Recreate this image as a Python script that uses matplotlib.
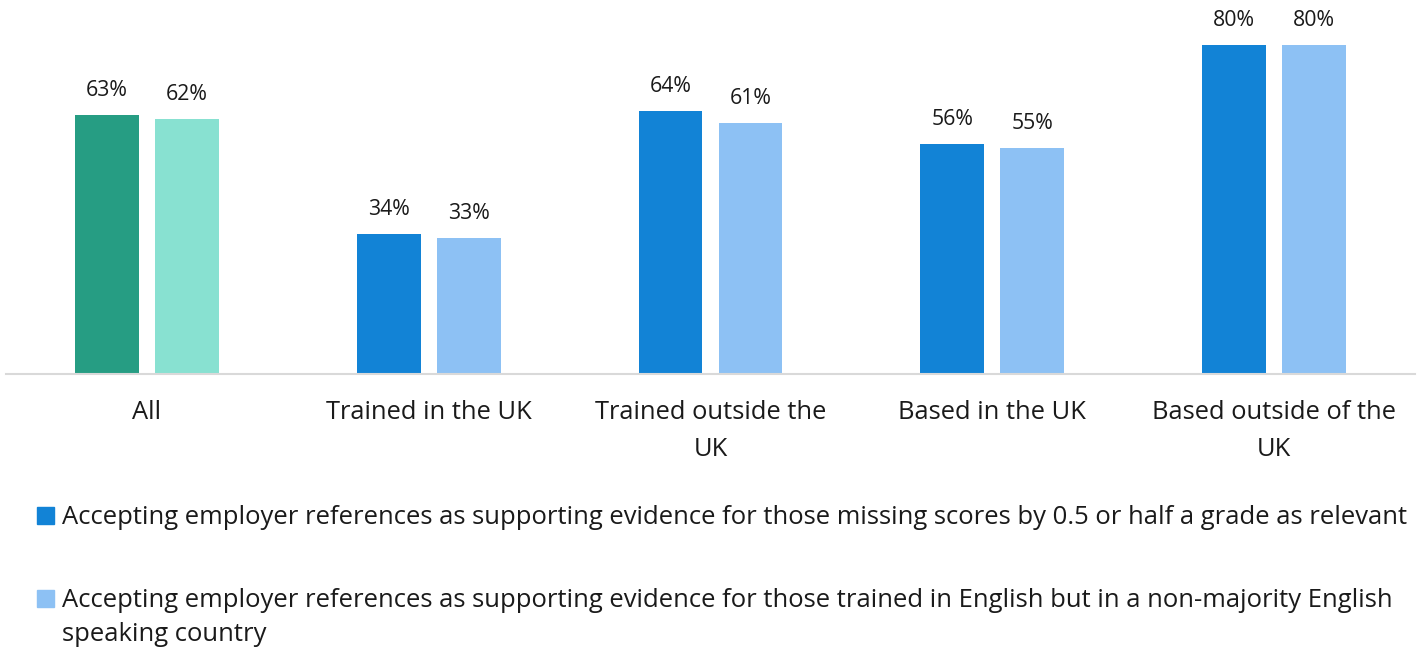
import numpy as np
import matplotlib.pyplot as plt
from matplotlib.patches import Rectangle

plt.rcParams['font.family'] = ['Open Sans', 'DejaVu Sans']

categories = ['All', 'Trained in the UK', 'Trained outside the\nUK', 'Based in the UK',
              'Based outside of the\nUK']
missing_scores = [63, 34, 64, 56, 80]
non_majority = [62, 33, 61, 55, 80]

legend_labels = [
    'Accepting employer references as supporting evidence for those missing scores by 0.5 or half a grade as relevant',
    'Accepting employer references as supporting evidence for those trained in English but in a non-majority English\nspeaking country',
]

dark_cols = ['#269D83'] + ['#1283D6'] * 4
light_cols = ['#88E1D1'] + ['#8DC1F4'] * 4

W, H = 1424, 653
fig = plt.figure(figsize=(W / 100, H / 100), dpi=100)
ax = fig.add_axes([6 / W, (H - 374) / H, 1409 / W, 374 / H])

x = np.arange(len(categories))
bw = 0.227
off = 0.142
b1 = ax.bar(x - off, missing_scores, bw, color=dark_cols)
b2 = ax.bar(x + off, non_majority, bw, color=light_cols)

for bars, vals in [(b1, missing_scores), (b2, non_majority)]:
    for b, v in zip(bars, vals):
        ax.annotate(f'{v}%', (b.get_x() + b.get_width() / 2, b.get_height()),
                    xytext=(0, 10), textcoords='offset points',
                    ha='center', va='bottom', fontsize=15.3, color='#1a1a1a')

ax.set_xlim(-0.5, 4.5)
ax.set_ylim(0, 91)
ax.set_xticks(x)
ax.set_xticklabels(categories, fontsize=18.4, color='#1a1a1a', linespacing=1.62)
ax.tick_params(axis='x', length=0, pad=19)
ax.set_yticks([])
for s in ['top', 'right', 'left']:
    ax.spines[s].set_visible(False)
ax.spines['bottom'].set_color('#D9D9D9')
ax.spines['bottom'].set_linewidth(1.5)

# legend drawn by hand, like the original
sq = 17
for lab, col, ytop in zip(legend_labels, ['#1283D6', '#8DC1F4'], [507, 590]):
    fig.patches.append(Rectangle((37 / W, (H - ytop - sq) / H), sq / W, sq / H,
                                 transform=fig.transFigure, color=col))
    for j, line in enumerate(lab.split('\n')):
        base = ytop + 17 + 34 * j
        fig.text(62 / W, (H - base) / H, line, fontsize=18.45, color='#1a1a1a',
                 ha='left', va='baseline')

fig.savefig('out.png', dpi=100)
